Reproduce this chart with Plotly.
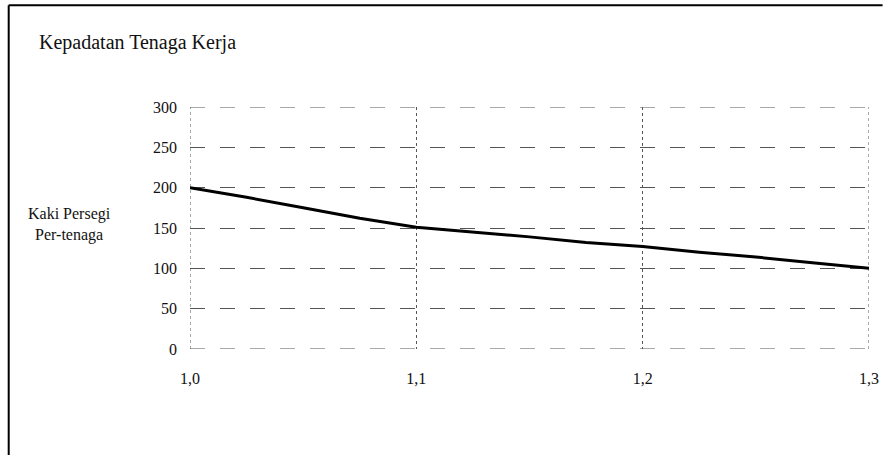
import plotly.graph_objects as go

# Data
rasio = [1.0, 1.025, 1.05, 1.075, 1.1, 1.125, 1.15, 1.175, 1.2, 1.225, 1.25, 1.275, 1.3]
kaki_persegi = [200, 188, 175, 162, 151, 145, 139, 132, 127, 120, 114, 107, 100]

x_tick_vals = [1.0, 1.1, 1.2, 1.3]
x_tick_text = ["1,0", "1,1", "1,2", "1,3"]
y_tick_vals = [0, 50, 100, 150, 200, 250, 300]
y_tick_text = ["0", "50", "100", "150", "200", "250", "300"]

title_text = "Kepadatan Tenaga Kerja"
y_label = "Kaki Persegi<br>Per-tenaga"

FONT = "Liberation Serif"
INK = "#111111"
HGRID = dict(color="#555555", width=1, dash="longdash")
VGRID = dict(color="#555555", width=1, dash="dot")

fig = go.Figure()
fig.add_trace(go.Scatter(
    x=rasio, y=kaki_persegi, mode="lines",
    line=dict(color="#000000", width=3),
    cliponaxis=False, showlegend=False, hoverinfo="skip",
))

shapes = [
    dict(type="line", xref="paper", yref="paper", x0=-0.267, x1=-0.267, y0=1.42, y1=-0.44,
         line=dict(color="#000000", width=2)),
    dict(type="line", xref="paper", yref="paper", x0=-0.267, x1=1.02, y0=1.42, y1=1.42,
         line=dict(color="#000000", width=2)),
]
# edge grid lines (plotly omits grid lines sitting exactly on the plot edges)
for yv in (y_tick_vals[0], y_tick_vals[-1]):
    shapes.append(dict(type="line", xref="x domain", yref="y", x0=0, x1=1, y0=yv, y1=yv,
                       line=HGRID, layer="below"))
for xv in (x_tick_vals[0], x_tick_vals[-1]):
    shapes.append(dict(type="line", xref="x", yref="y domain", x0=xv, x1=xv, y0=0, y1=1,
                       line=VGRID, layer="below"))

fig.update_layout(
    width=891, height=455,
    margin=dict(l=190, r=13, t=107, b=106),
    paper_bgcolor="white", plot_bgcolor="white",
    font=dict(family=FONT, color=INK, size=15),
    showlegend=False,
    xaxis=dict(
        range=[1.0, 1.3], tickvals=x_tick_vals, ticktext=x_tick_text,
        showgrid=True, gridcolor=VGRID["color"], gridwidth=1, griddash="dot",
        zeroline=False, showline=False, ticks="",
        ticklabelstandoff=18, tickfont=dict(size=16, family=FONT, color=INK),
    ),
    yaxis=dict(
        range=[0, 300], tickvals=y_tick_vals, ticktext=y_tick_text,
        showgrid=True, gridcolor=HGRID["color"], gridwidth=1, griddash="longdash",
        zeroline=False, showline=False, ticks="",
        ticklabelstandoff=12, tickfont=dict(size=16, family=FONT, color=INK),
    ),
    annotations=[
        dict(text=title_text, xref="paper", yref="paper",
             x=-0.225, y=1.265, xanchor="left", yanchor="middle",
             showarrow=False, font=dict(size=20, family=FONT, color=INK)),
        dict(text=y_label, xref="paper", yref="paper",
             x=-0.177, y=0.515, xanchor="center", yanchor="middle", align="center",
             showarrow=False, font=dict(size=16, family=FONT, color=INK)),
    ],
    shapes=shapes,
)

fig.write_html("out.html")
